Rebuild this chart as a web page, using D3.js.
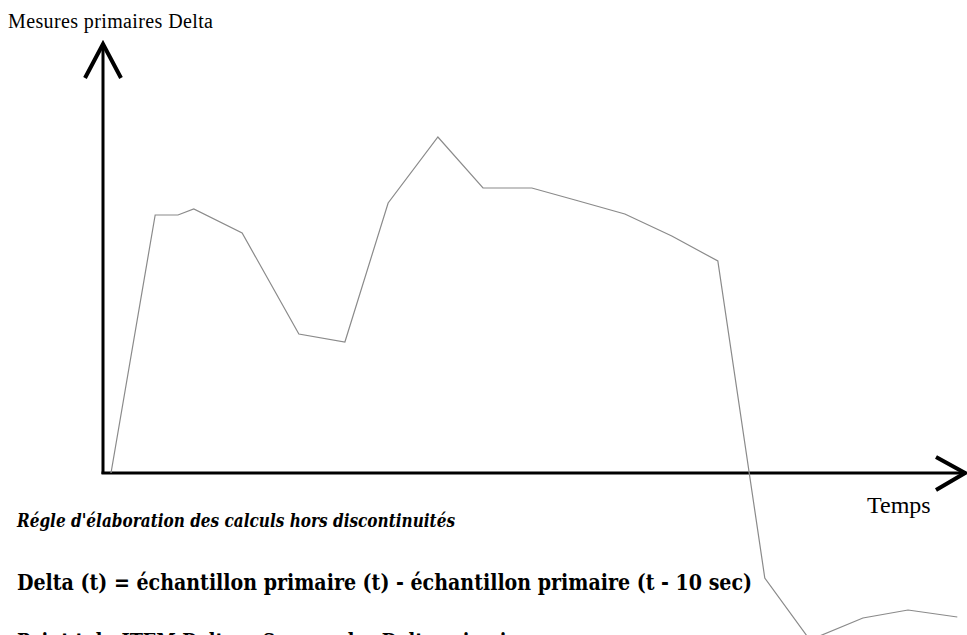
<!DOCTYPE html>
<html>
<head>
<meta charset="utf-8">
<script src="https://cdn.jsdelivr.net/npm/d3@7"></script>
<style>
  body { margin: 0; background: #fff; }
  svg { display: block; }
</style>
</head>
<body>
<div id="chart"></div>
<script>
// time (sec) and delta values
let times = [0, 9.5, 14.4, 17.8, 28.2, 40.4, 50.3, 59.6, 70.3, 80, 90.5, 99.8, 110.5, 120.6, 130.5, 140.6, 150.3, 161.7, 171.4, 182];
let deltas = [0, 25.8, 25.8, 26.4, 24, 13.9, 13.1, 27, 33.6, 28.5, 28.5, 27.3, 25.9, 23.7, 21.2, -10.5, -16.7, -14.5, -13.7, -14.4];

let yLabel = "Mesures primaires Delta";
let xLabel = "Temps";
let notes = [
  "Régle d'élaboration des calculs hors discontinuités",
  "Delta (t) =  échantillon primaire (t) - échantillon primaire (t - 10 sec)",
  "Point t du ITEM Delta =  Somme des Delta primaires"
];

let width = 967,
  height = 635;

let svg = d3
  .select("#chart")
  .append("svg")
  .attr("width", width)
  .attr("height", height);

// scales: 1 sec ~ 4.65 px, 1 unit = 10 px
let x = d3.scaleLinear().domain([0, 180]).range([111, 948]);
let y = d3.scaleLinear().domain([0, 35]).range([473, 123]);

let data = times.map((t, i) => ({ t: t, v: deltas[i] }));

// axes drawn as plain arrows
let x0 = x.invert(103);
let axisY = y(0);
let yTop = y.invert(42);
let xEnd = x.invert(967);

// vertical axis
svg
  .append("line")
  .attr("x1", x(x0))
  .attr("x2", x(x0))
  .attr("y1", axisY + 1)
  .attr("y2", y(yTop) + 2)
  .attr("stroke", "black")
  .attr("stroke-width", 3);
svg
  .append("path")
  .attr("d", `M${x(x0) - 18},${y(yTop) + 36} L${x(x0)},${y(yTop) + 2} L${x(x0) + 18},${y(yTop) + 36}`)
  .attr("fill", "none")
  .attr("stroke", "black")
  .attr("stroke-width", 4);

// horizontal axis
svg
  .append("line")
  .attr("x1", x(x0) - 1.5)
  .attr("x2", x(xEnd) - 2)
  .attr("y1", axisY)
  .attr("y2", axisY)
  .attr("stroke", "black")
  .attr("stroke-width", 3);
svg
  .append("path")
  .attr("d", `M${x(xEnd) - 31},${axisY - 16} L${x(xEnd) - 2},${axisY} L${x(xEnd) - 31},${axisY + 17}`)
  .attr("fill", "none")
  .attr("stroke", "black")
  .attr("stroke-width", 4);

// the delta line
svg
  .append("path")
  .datum(data)
  .attr(
    "d",
    d3
      .line()
      .x((d) => x(d.t))
      .y((d) => y(d.v))
  )
  .attr("fill", "none")
  .attr("stroke", "#8a8a8a")
  .attr("stroke-width", 1.2);

// axis labels
svg
  .append("text")
  .attr("x", 8)
  .attr("y", 28)
  .style("font-family", "'Liberation Serif', 'Times New Roman', serif")
  .style("font-size", "20px")
  .attr("textLength", 205)
  .text(yLabel);

svg
  .append("text")
  .attr("x", 867)
  .attr("y", 513)
  .style("font-family", "'Liberation Serif', 'Times New Roman', serif")
  .style("font-size", "24px")
  .text(xLabel);

// notes under the chart
svg
  .append("text")
  .attr("x", 17)
  .attr("y", 527)
  .style("font-family", "'DejaVu Serif', serif")
  .style("font-size", "18px")
  .style("font-weight", "bold")
  .style("font-style", "italic")
  .attr("textLength", 438)
  .attr("lengthAdjust", "spacingAndGlyphs")
  .text(notes[0]);

svg
  .append("text")
  .attr("x", 17)
  .attr("y", 590)
  .style("font-family", "'DejaVu Serif Condensed', 'DejaVu Serif', serif")
  .style("font-size", "22px")
  .style("font-weight", "bold")
  .attr("textLength", 735)
  .attr("lengthAdjust", "spacingAndGlyphs")
  .text(notes[1]);

svg
  .append("text")
  .attr("x", 17)
  .attr("y", 649)
  .style("font-family", "'DejaVu Serif Condensed', 'DejaVu Serif', serif")
  .style("font-size", "22px")
  .style("font-weight", "bold")
  .attr("textLength", 520)
  .attr("lengthAdjust", "spacingAndGlyphs")
  .text(notes[2]);
</script>
</body>
</html>
